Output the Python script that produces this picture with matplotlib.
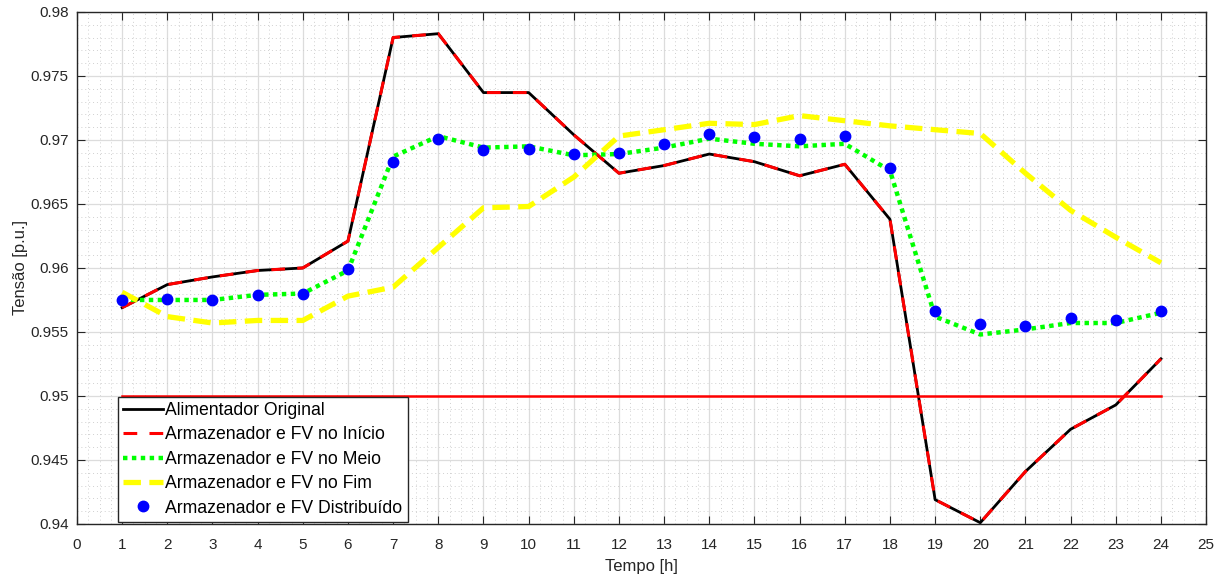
import numpy as np
import matplotlib.pyplot as plt
from matplotlib.ticker import MultipleLocator

plt.rcParams['font.family'] = ['Liberation Sans', 'DejaVu Sans']

horas = np.arange(1, 25)

# tensão no nó crítico (p.u.)
original = [0.9569, 0.9587, 0.9593, 0.9598, 0.9600, 0.9621, 0.9780, 0.9783,
            0.9737, 0.9737, 0.9704, 0.9674, 0.9680, 0.9689, 0.9683, 0.9672,
            0.9681, 0.9638, 0.9419, 0.9401, 0.9441, 0.9474, 0.9493, 0.9529]
inicio = list(original)
meio = [0.9575, 0.9575, 0.9575, 0.9579, 0.9580, 0.9598, 0.9687, 0.9703,
        0.9694, 0.9695, 0.9688, 0.9689, 0.9694, 0.9701, 0.9697, 0.9695,
        0.9697, 0.9676, 0.9562, 0.9548, 0.9552, 0.9557, 0.9557, 0.9565]
fim = [0.9581, 0.9562, 0.9557, 0.9559, 0.9559, 0.9578, 0.9585, 0.9616,
       0.9647, 0.9648, 0.9671, 0.9703, 0.9708, 0.9713, 0.9712, 0.9719,
       0.9715, 0.9711, 0.9708, 0.9705, 0.9674, 0.9645, 0.9624, 0.9604]
distribuido = [0.9575, 0.9576, 0.9575, 0.9579, 0.9580, 0.9599, 0.9683, 0.9701,
               0.9692, 0.9693, 0.9689, 0.9690, 0.9697, 0.9705, 0.9702, 0.9701,
               0.9703, 0.9678, 0.9566, 0.9556, 0.9555, 0.9561, 0.9559, 0.9566]
limite = 0.95

fig = plt.figure(figsize=(12.22, 5.76), dpi=100)
ax = fig.add_axes([0.063, 0.0903, 0.924, 0.889])

ax.plot(horas, original, color='k', lw=2, label='Alimentador Original')
ax.plot(horas, inicio, color='red', lw=2.2, dashes=(4.5, 4), label='Armazenador e FV no Início')
ax.plot(horas, meio, color='#00ff00', lw=3.2, dashes=(1, 1), label='Armazenador e FV no Meio')
ax.plot(horas, fim, color='yellow', lw=3.8, dashes=(3.3, 1.6), label='Armazenador e FV no Fim')
ax.plot(horas, distribuido, ls='none', marker='o', ms=7.5, color='blue',
        label='Armazenador e FV Distribuído')
ax.plot([horas[0], horas[-1]], [limite, limite], color='red', lw=1.8)

ax.set_xlim(0, 25)
ax.set_ylim(0.94, 0.98)
ax.xaxis.set_major_locator(MultipleLocator(1))
ax.xaxis.set_minor_locator(MultipleLocator(0.25))
ax.yaxis.set_minor_locator(MultipleLocator(0.001))
ax.set_yticks(np.arange(0.94, 0.9801, 0.005))
ax.set_yticklabels(['0.94', '0.945', '0.95', '0.955', '0.96', '0.965',
                    '0.97', '0.975', '0.98'])

ax.grid(which='major', color='#dcdcdc', lw=0.9)
ax.grid(which='minor', color='#d0d0d0', lw=0.7, ls=(0, (1, 3)))
ax.set_axisbelow(True)
ax.tick_params(which='major', direction='in', length=6, top=True, right=True,
               labelsize=11, colors='#262626', width=0.8)
ax.tick_params(axis='x', which='major', pad=10)
ax.tick_params(axis='y', which='major', pad=6)
ax.tick_params(which='minor', length=0, top=True, right=True)
for s in ax.spines.values():
    s.set_color('#262626')
    s.set_linewidth(1.0)

ax.set_xlabel('Tempo [h]', fontsize=12, color='#262626', labelpad=5)
ax.set_ylabel('Tensão [p.u.]', fontsize=12, color='#262626', labelpad=2)

leg = ax.legend(loc='lower left', bbox_to_anchor=(0.036, 0.004), borderaxespad=0,
                fontsize=12.7, fancybox=False, framealpha=1, edgecolor='#262626',
                handlelength=2.3, handletextpad=0.1, labelspacing=0.42,
                borderpad=0.3, markerscale=1.0)
leg.get_frame().set_linewidth(1.0)

plt.savefig('out.png', dpi=100)
